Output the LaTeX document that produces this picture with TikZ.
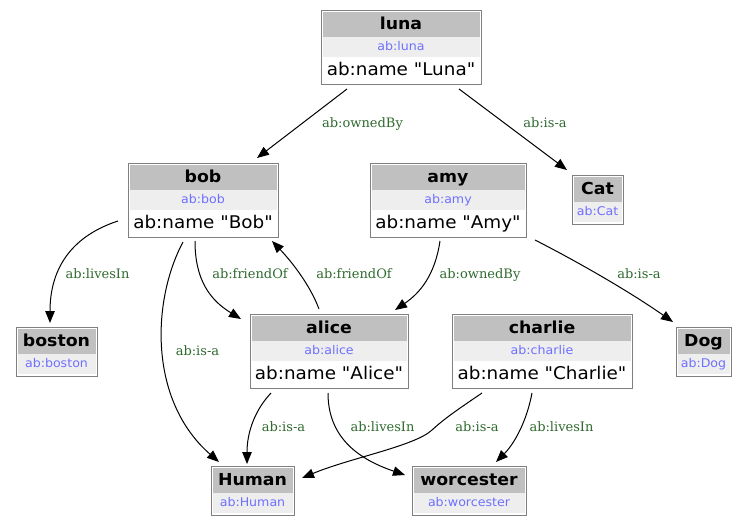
\documentclass[tikz,border=0pt]{standalone}
\usepackage{fontspec}
\usetikzlibrary{arrows.meta,calc}
\newfontfamily\nodefont[FakeStretch=1.05]{DejaVu Sans}
\newfontfamily\labelfont{DejaVu Serif}
\definecolor{hdr}{HTML}{C0C0C0}
\definecolor{subbg}{HTML}{EEEEEE}
\definecolor{bord}{HTML}{808080}
\definecolor{subblue}{HTML}{6F6FFF}
\definecolor{lblgreen}{HTML}{2F6A2F}
\tikzset{
  outerbox/.style={draw=bord, line width=1pt, fill=white, inner sep=0pt, outer sep=0pt},
  titletext/.style={anchor=base, inner sep=0pt, font=\nodefont\bfseries\fontsize{16.5}{16.5}\selectfont},
  subtext/.style={anchor=base, inner sep=0pt, text=subblue, font=\nodefont\fontsize{12}{12}\selectfont},
  nametext/.style={anchor=base, inner sep=0pt, font=\nodefont\fontsize{17.5}{17.5}\selectfont},
  lbl/.style={anchor=base, inner sep=0pt, text=lblgreen, font=\labelfont\fontsize{13}{13}\selectfont},
  rel/.style={draw, line width=1pt, -{Triangle[length=12pt,width=9.5pt]}}
}
\newcommand\rdfthree[7]{%
  \node[outerbox, minimum width={(#4-#2)*1pt}, minimum height=74pt, anchor=north west] (#1) at (#2,#3) {};
  \fill[hdr] ({#2+1.5},{#3+2}) rectangle ({#4-1.5},{#3+27});
  \fill[subbg] ({#2+1.5},{#3+27}) rectangle ({#4-1.5},{#3+47});
  \node[titletext] (#1-t) at ({(#2+#4)/2},{#3+19}) {#5};
  \node[subtext] (#1-s) at ({(#2+#4)/2},{#3+40}) {#6};
  \node[nametext] (#1-n) at ({(#2+#4)/2},{#3+65}) {#7};
}
\newcommand\rdftwo[6]{%
  \node[outerbox, minimum width={(#4-#2)*1pt}, minimum height=49pt, anchor=north west] (#1) at (#2,#3) {};
  \fill[hdr] ({#2+1.5},{#3+2}) rectangle ({#4-1.5},{#3+27});
  \fill[subbg] ({#2+1.5},{#3+27}) rectangle ({#4-1.5},{#3+47});
  \node[titletext] (#1-t) at ({(#2+#4)/2},{#3+19}) {#5};
  \node[subtext] (#1-s) at ({(#2+#4)/2},{#3+40}) {#6};
}
\begin{document}
\begin{tikzpicture}[x=1pt,y=-1pt]
\useasboundingbox (0,0) rectangle (747,525);
\fill[white] (0,0) rectangle (747,525);

\rdfthree{luna}{321}{10}{481}{luna}{ab:luna}{ab:name "Luna"}
\rdfthree{bob}{128}{163}{278}{bob}{ab:bob}{ab:name "Bob"}
\rdfthree{amy}{370}{163}{526}{amy}{ab:amy}{ab:name "Amy"}
\rdfthree{alice}{250}{314}{408}{alice}{ab:alice}{ab:name "Alice"}
\rdfthree{charlie}{452}{314}{632}{charlie}{ab:charlie}{ab:name "Charlie"}
\rdftwo{boston}{16}{327}{97}{boston}{ab:boston}
\rdftwo{cat}{572}{175}{623}{Cat}{ab:Cat}
\rdftwo{dog}{676}{327}{731}{Dog}{ab:Dog}
\rdftwo{human}{211}{466}{294}{Human}{ab:Human}
\rdftwo{worcester}{412}{466}{526}{worcester}{ab:worcester}

\draw[rel] ($(luna.south west)+(26,5)$) -- ($(bob.north west)+(129,-5)$);
\draw[rel] ($(luna.south west)+(138,5)$) -- ($(cat.north west)+(-5,-5)$);
\draw[rel] ($(bob.north west)+(-10,58)$) .. controls (75,235) and (50,265) .. ($(boston.north west)+(34,-4)$);
\draw[rel] ($(bob.south west)+(67,4)$) .. controls (195,280) and (210,300) .. ($(alice.north west)+(-9,5)$);
\draw[rel] ($(alice.north west)+(69,-5)$) .. controls (310,285) and (292,262) .. ($(bob.south west)+(144,4)$);
\draw[rel] ($(bob.south west)+(55,5)$) .. controls (152,300) and (148,400) .. ($(human.north west)+(8,-4)$);
\draw[rel] ($(amy.south west)+(70,4)$) .. controls (435,275) and (420,293) .. ($(alice.north west)+(145,-4)$);
\draw[rel] ($(amy.south east)+(9,3)$) .. controls (580,263) and (630,292) .. ($(dog.north west)+(-3,-5)$);
\draw[rel] ($(alice.south west)+(21,5)$) .. controls (255,410) and (247,432) .. ($(human.north west)+(36,-2)$);
\draw[rel] ($(alice.south west)+(78,5)$) .. controls (328,435) and (355,458) .. ($(worcester.north west)+(-7,9)$);
\draw[rel] ($(charlie.south west)+(30,5)$) .. controls (460,408) and (445,418) .. (432,430) .. controls (415,446) and (350,458) .. ($(human.north east)+(8,12)$);
\draw[rel] ($(charlie.south west)+(80,5)$) .. controls (527,420) and (515,443) .. ($(worcester.north east)+(-30,-4)$);

\node[lbl] (l1) at (362.5,127.5) {ab:ownedBy};
\node[lbl] (l2) at (545,127.5) {ab:is-a};
\node[lbl] (l3) at (97.5,278.5) {ab:livesIn};
\node[lbl] (l4) at (250,278.5) {ab:friendOf};
\node[lbl] (l5) at (354,278.5) {ab:friendOf};
\node[lbl] (l6) at (480,278.5) {ab:ownedBy};
\node[lbl] (l7) at (639,278.5) {ab:is-a};
\node[lbl] (l8) at (197.5,355) {ab:is-a};
\node[lbl] (l9) at (283.5,431.5) {ab:is-a};
\node[lbl] (l10) at (382.5,431.5) {ab:livesIn};
\node[lbl] (l11) at (477,431.5) {ab:is-a};
\node[lbl] (l12) at (561.5,431.5) {ab:livesIn};
\end{tikzpicture}
\end{document}
